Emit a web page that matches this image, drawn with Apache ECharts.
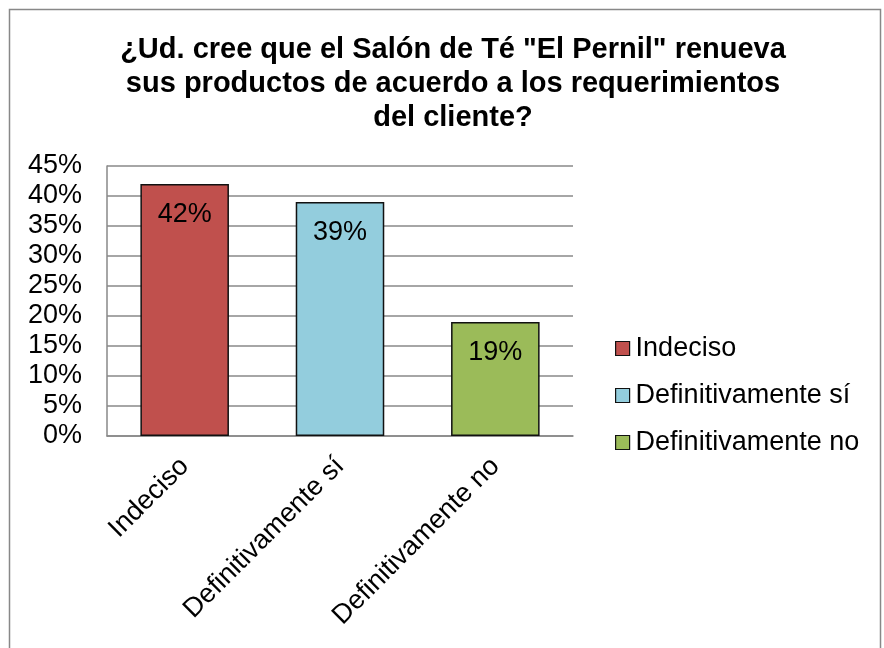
<!DOCTYPE html>
<html><head><meta charset="utf-8">
<script src="https://cdn.jsdelivr.net/npm/echarts@6/dist/echarts.min.js"></script>
<style>html,body{margin:0;padding:0;background:#fff}#c{width:884px;height:648px}</style>
</head><body><div id="c"></div>
<script>
const titleText = '¿Ud. cree que el Salón de Té "El Pernil" renueva\nsus productos de acuerdo a los requerimientos\ndel cliente?';
const categories = ['Indeciso', 'Definitivamente sí', 'Definitivamente no'];
const values = [42, 39, 19];
const colors = ['#C0504D', '#93CDDD', '#9BBB59'];
const yTicks = { min: 0, max: 45, interval: 5 };

const FONT = '"Liberation Sans", Arial, sans-serif';
const FS = 27;
const series = categories.map((name, i) => ({
  name: name,
  type: 'bar',
  stack: 'all',
  barWidth: '57%',
  data: categories.map((c, j) => j === i ? values[i] : '-'),
  itemStyle: { color: colors[i], borderColor: '#111', borderWidth: 1.5 },
  label: { show: true, position: 'insideTop', distance: 17, formatter: '{c}%', color: '#000', fontSize: FS, fontFamily: FONT }
}));

const chart = echarts.init(document.getElementById('c'), null, { renderer: 'canvas' });
chart.setOption({
  animation: false,
  backgroundColor: '#fff',
  graphic: [{ type: 'rect', shape: { x: 9.5, y: 9.5, width: 871, height: 700 }, style: { fill: null, stroke: '#888', lineWidth: 1.5 }, silent: true }],
  title: {
    text: titleText, left: 448, top: 28, textAlign: 'center',
    textStyle: { fontFamily: FONT, fontWeight: 'bold', fontSize: 29, lineHeight: 34, color: '#000' }
  },
  legend: {
    orient: 'vertical', left: 615, top: 335, padding: 0, itemWidth: 14, itemHeight: 14, itemGap: 20,
    icon: 'rect',
    itemStyle: { borderColor: '#111', borderWidth: 1.2 },
    textStyle: { fontFamily: FONT, fontSize: FS, color: '#000', padding: [0, 0, 0, 1] },
    data: categories
  },
  grid: { left: 107, right: 311, top: 166, bottom: 212, containLabel: false },
  xAxis: {
    type: 'category', data: categories,
    axisLine: { show: true, lineStyle: { color: '#888', width: 1.5 } },
    axisTick: { show: false },
    axisLabel: { rotate: 45, fontFamily: FONT, fontSize: FS, color: '#000', margin: 26, interval: 0 }
  },
  yAxis: {
    type: 'value', min: yTicks.min, max: yTicks.max, interval: yTicks.interval,
    axisLine: { show: true, lineStyle: { color: '#888', width: 1.5 } },
    axisTick: { show: false },
    splitLine: { lineStyle: { color: '#888', width: 1.5 } },
    axisLabel: { formatter: '{value}%', fontFamily: FONT, fontSize: FS, color: '#000', margin: 25 }
  },
  series: series
});
</script></body></html>
